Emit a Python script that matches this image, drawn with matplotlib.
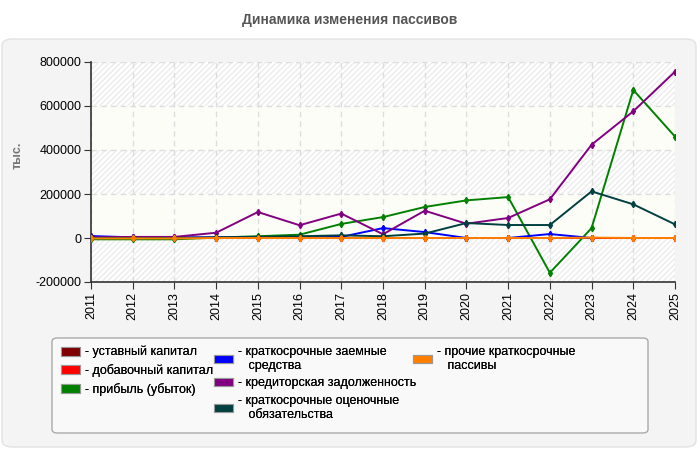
import numpy as np
import matplotlib.pyplot as plt
from matplotlib.patches import FancyBboxPatch, Patch

plt.rcParams['font.family'] = ['Liberation Sans', 'DejaVu Sans']

years = list(range(2011, 2026))

# values, thousand rub.
ustavny = [0, 0, 0, 0, 0, 0, 0, 0, 0, 0, 0, 0, 0, 0, 0]
dobavochny = [0, 0, 0, 0, 0, 0, 0, 0, 0, 0, 0, 0, 0, 0, 0]
pribyl = [-6000, -6000, -6000, 2000, 8000, 15000, 64000, 95000, 141000, 171000, 186000, -158000, 45000, 673000, 461000]
zaemnye = [9000, 3000, 3000, 3000, 3000, 3000, 5000, 45000, 27000, 0, 0, 18000, 0, np.nan, np.nan]
kreditor = [3000, 5000, 5000, 24000, 118000, 58000, 111000, 17000, 124000, 65000, 91000, 176000, 424000, 576000, 756000]
ocenochnye = [0, 0, 0, 3000, 5000, 8000, 12000, 8000, 20000, 68000, 59000, 59000, 212000, 153000, 62000]
prochie = [-2000, -2000, -2000, 0, 0, 0, 0, 0, 0, 0, 0, 0, 2000, 0, 0]

series = [
    ('- уставный капитал', ustavny, '#800000'),
    ('- добавочный капитал', dobavochny, '#ff0000'),
    ('- прибыль (убыток)', pribyl, '#008000'),
    ('- краткосрочные заемные\n   средства', zaemnye, '#0000ff'),
    ('- кредиторская задолженность', kreditor, '#800080'),
    ('- краткосрочные оценочные\n   обязательства', ocenochnye, '#004040'),
    ('- прочие краткосрочные\n   пассивы', prochie, '#ff8000'),
]

fig = plt.figure(figsize=(7, 4.5), dpi=100)
fig.patch.set_facecolor('white')

# rounded gray panel
panel = FancyBboxPatch((2 / 700, 3 / 450), 694 / 700, 408 / 450,
                       boxstyle='round,pad=0,rounding_size=0.015',
                       transform=fig.transFigure, facecolor='#f4f4f4',
                       edgecolor='#e2e2e2', linewidth=1, zorder=-10)
fig.patches.append(panel)

fig.text(0.5, 1 - 20 / 450, 'Динамика изменения пассивов', ha='center', va='center',
         fontsize=10, fontweight='bold', color='#555555')

ax = fig.add_axes([91 / 700, 1 - 282 / 450, 584 / 700, 220 / 450])
ax.set_facecolor('white')

yt = [-200000, 0, 200000, 400000, 600000, 800000]
for i in range(len(yt) - 1):
    if i % 2 == 0:
        ax.axhspan(yt[i], yt[i + 1], facecolor='white', edgecolor='#ececec',
                   hatch='//////', linewidth=0, zorder=0)
    else:
        ax.axhspan(yt[i], yt[i + 1], facecolor='#fdfdf8', linewidth=0, zorder=0)

ax.grid(True, color='#dddddd', linestyle=(0, (4, 3)), linewidth=1)
ax.set_axisbelow(True)

for label, vals, col in series:
    ax.plot(years, vals, color=col, linewidth=1.4, marker='d', markersize=3.2,
            label=label, zorder=3)

ax.set_xlim(2011, 2025)
ax.set_ylim(-200000, 800000)
ax.set_xticks(years)
ax.set_xticklabels([str(y) for y in years], rotation=90, fontsize=9)
ax.set_yticks(yt)
ax.set_yticklabels([str(v) for v in yt], fontsize=9)
ax.tick_params(direction='out', length=5, color='#333333', pad=2)
for s in ['top', 'right']:
    ax.spines[s].set_visible(False)
for s in ['left', 'bottom']:
    ax.spines[s].set_color('#333333')
    ax.spines[s].set_linewidth(1.2)

fig.text(18 / 700, 1 - 155 / 450, 'тыс.', rotation=90, ha='center', va='center',
         fontsize=9, fontweight='bold', color='#777777')

# legend box
lbox = FancyBboxPatch((52 / 700, 1 - 433 / 450), 596 / 700, 95 / 450,
                      boxstyle='round,pad=0,rounding_size=0.008',
                      transform=fig.transFigure, facecolor='#f9f9f9',
                      edgecolor='#aaaaaa', linewidth=1, zorder=-5)
fig.patches.append(lbox)

# three legend columns, like the original
cols = [(series[0:3], 61), (series[3:6], 214), (series[6:7], 413)]
for items, xpx in cols:
    handles = [Patch(facecolor=c, edgecolor='#999999', linewidth=0.8) for _, _, c in items]
    labels = [l for l, _, _ in items]
    leg = fig.legend(handles, labels, loc='upper left',
                     bbox_to_anchor=(xpx / 700, 1 - 346 / 450), frameon=False,
                     fontsize=9, handlelength=1.5, handleheight=0.7, handletextpad=0.4,
                     labelspacing=0.45, borderaxespad=0, borderpad=0)
    fig.add_artist(leg)

fig.savefig('out.png', dpi=100)
